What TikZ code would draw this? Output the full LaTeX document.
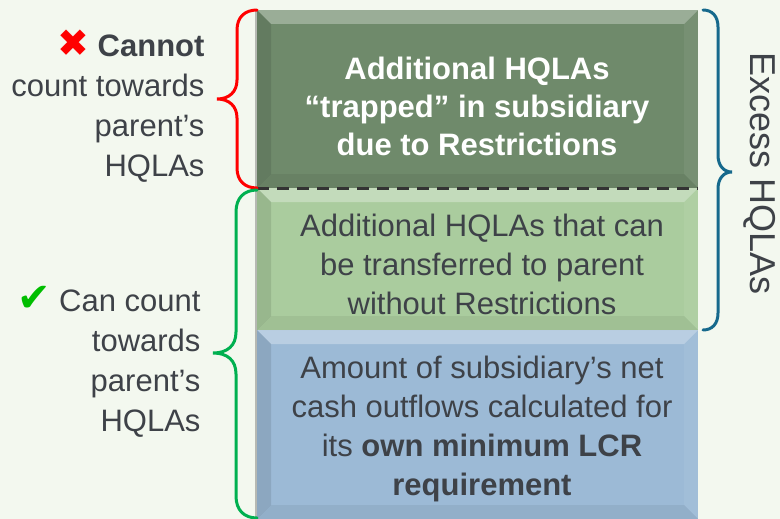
\documentclass[tikz,border=0pt]{standalone}
\usepackage{fontspec}
\setmainfont{Liberation Sans}
\newfontfamily\symfont{DejaVu Sans}
\usetikzlibrary{calc}
\definecolor{bgcol}{RGB}{243,248,239}
\definecolor{trapgreen}{RGB}{111,138,107}
\definecolor{freegreen}{RGB}{170,204,158}
\definecolor{ownblue}{RGB}{156,186,214}
\definecolor{txtgray}{RGB}{62,66,72}
\definecolor{bracered}{RGB}{255,0,0}
\definecolor{bracegreen}{RGB}{0,176,80}
\definecolor{braceblue}{RGB}{22,105,140}
\definecolor{checkgreen}{RGB}{0,190,0}
\tikzset{
  box/.style={minimum width=441pt, inner sep=0pt, outer sep=0pt},
  boxtext/.style={align=center, text=txtgray, font=\fontsize{31}{39}\selectfont},
  sidetext/.style={align=right, anchor=east, text=txtgray, font=\fontsize{31}{40}\selectfont},
  curly/.style={line width=3pt, line cap=round},
}
\begin{document}
\begin{tikzpicture}[x=1pt,y=-1pt]
  \fill[bgcol] (0,0) rectangle (780,519);
  \useasboundingbox (0,0) rectangle (780,519);
  % the three stacked boxes
  \fill[black,opacity=.25] (254.5,10) rectangle (257,519);
  \node[box, fill=trapgreen, minimum height=178pt] (trap) at (477.5,99) {};
  \node[box, fill=freegreen, minimum height=142pt] (free) at (477.5,259) {};
  \node[box, fill=ownblue, minimum height=189pt] (own) at (477.5,424.5) {};
  % bevel edges
  \foreach \b in {trap,free,own} {
    \fill[white,opacity=.3] (\b.north west) -- (\b.north east) -- ($(\b.north east)+(-14,14)$) -- ($(\b.north west)+(14,14)$) -- cycle;
    \fill[black,opacity=.1] (\b.north west) -- ($(\b.north west)+(14,14)$) -- ($(\b.south west)+(14,-14)$) -- (\b.south west) -- cycle;
    \fill[white,opacity=.06] (\b.north east) -- ($(\b.north east)+(-14,14)$) -- ($(\b.south east)+(-14,-14)$) -- (\b.south east) -- cycle;
    \fill[black,opacity=.06] (\b.south west) -- ($(\b.south west)+(14,-14)$) -- ($(\b.south east)+(-14,-14)$) -- (\b.south east) -- cycle;
  }
  \draw[dash pattern=on 12pt off 8pt, line width=3pt, black!80] (trap.south west) -- (trap.south east);
  % box texts
  \node[boxtext, text=white, font=\bfseries\fontsize{31}{38}\selectfont] (traptext) at (477,106) {Additional HQLAs\\“trapped” in subsidiary\\due to Restrictions};
  \node[boxtext] (freetext) at (482,264) {Additional HQLAs that can\\be transferred to parent\\without Restrictions};
  \node[boxtext] (owntext) at (482,429) {Amount of subsidiary’s net\\cash outflows calculated for\\its \textbf{own minimum LCR}\\\textbf{requirement}};
  % side labels
  \node[sidetext] (cannot) at (208,106) {{\symfont\fontsize{38}{40}\selectfont\color{bracered}✖} \textbf{Cannot}\\count towards\\parent’s\\HQLAs};
  \node[sidetext] (can) at (204,362) {{\symfont\fontsize{40}{40}\selectfont\color{checkgreen}✔} Can count\\towards\\parent’s\\HQLAs};
  \node[rotate=-90, inner sep=0pt, text=txtgray, font=\fontsize{36}{40}\selectfont] (excess) at (760,174) {Excess HQLAs};
  % braces
  \draw[curly, bracered] (257,10) .. controls (245,10) and (237,17) .. (237,30) -- (237,80)
    .. controls (237,92) and (229,99) .. (217,99) .. controls (229,99) and (237,106) .. (237,118)
    -- (237,168) .. controls (237,181) and (245,188) .. (257,188);
  \draw[curly, bracegreen] (257,190) .. controls (244,190) and (236,198) .. (236,212) -- (236,332)
    .. controls (236,346) and (227,353) .. (213,353) .. controls (227,353) and (236,360) .. (236,374)
    -- (236,496) .. controls (236,510) and (244,518) .. (257,518);
  \draw[curly, braceblue] (703,10) .. controls (712,10) and (718,16) .. (718,27) -- (718,155)
    .. controls (718,166) and (724,172) .. (732,172) .. controls (724,172) and (718,178) .. (718,189)
    -- (718,313) .. controls (718,324) and (712,330) .. (703,330);
\end{tikzpicture}
\end{document}
